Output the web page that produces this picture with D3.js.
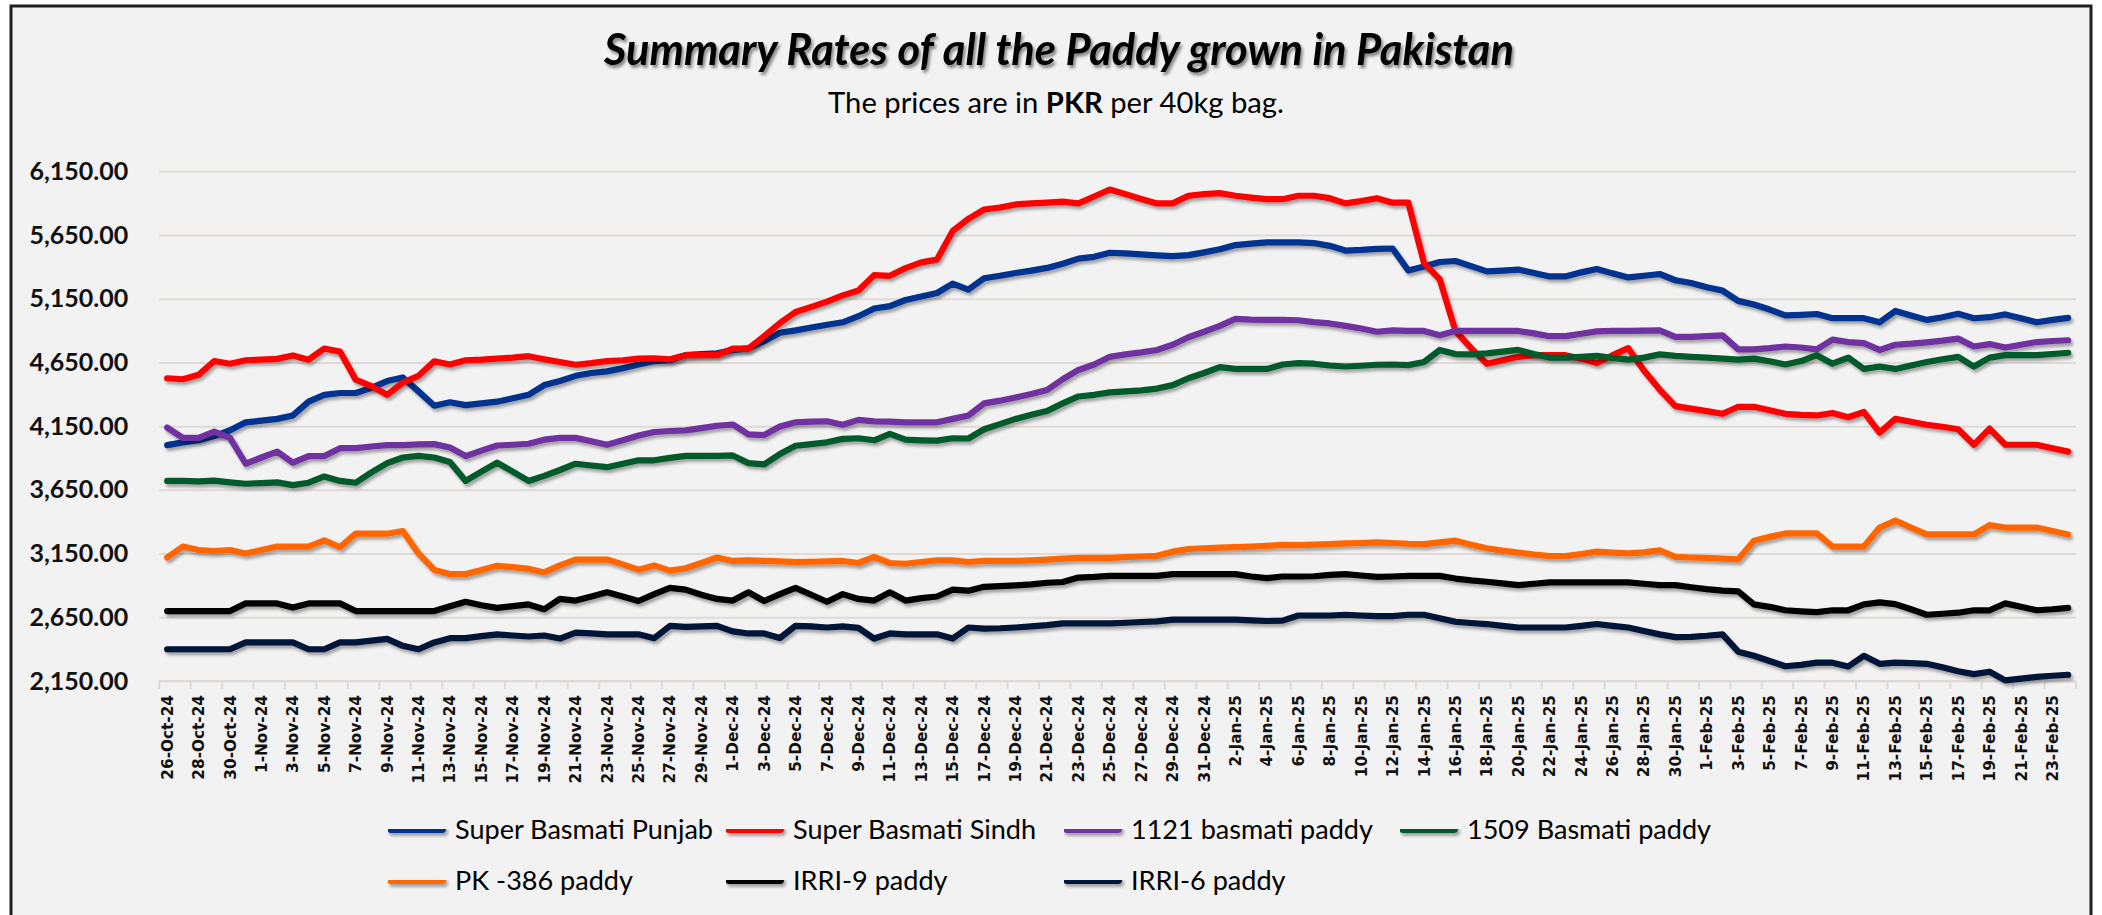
<!DOCTYPE html>
<html><head><meta charset="utf-8">
<script src="https://cdn.jsdelivr.net/npm/d3@7"></script>
<style>html,body{margin:0;padding:0;background:#fff;}svg{display:block}</style>
</head><body>
<svg id="chart" width="2102" height="915"></svg>
<script>
// ---------- DATA ----------
const categories = d3.utcDay.range(Date.UTC(2024, 9, 26), Date.UTC(2025, 1, 25)).map(d3.utcFormat("%-d-%b-%y"));
const yTickValues = [2150, 2650, 3150, 3650, 4150, 4650, 5150, 5650, 6150];
const seriesNames = ["Super Basmati Punjab", "Super Basmati Sindh", "1121 basmati paddy", "1509 Basmati paddy", "PK -386 paddy", "IRRI-9 paddy", "IRRI-6 paddy"];

const superBasmatiPunjab = [4001,4023,4039,4072,4118,4180,4193,4207,4234,4342,4396,4410,4410,4450,4504,4532,4423,4310,4337,4315,
4329,4342,4369,4396,4472,4504,4545,4567,4580,4605,4634,4661,4667,4707,4716,4721,4748,4761,4816,4883,
4902,4924,4946,4965,5013,5073,5092,5140,5168,5195,5268,5222,5311,5330,5352,5371,5392,5425,5465,5479,
5511,5506,5498,5490,5484,5492,5514,5538,5571,5582,5592,5592,5592,5587,5565,5528,5533,5541,5544,5371,
5403,5438,5446,5406,5365,5371,5379,5352,5325,5325,5357,5384,5349,5317,5330,5344,5295,5273,5240,5214,
5133,5105,5065,5019,5024,5030,4997,4997,4997,4965,5054,5019,4984,5005,5032,4997,5005,5027,4997,4965,
4984,5000];
const superBasmatiSindh = [4526,4518,4553,4661,4640,4667,4672,4678,4705,4672,4759,4735,4515,4464,4396,4491,4545,4659,4634,4667,
4672,4680,4688,4699,4675,4653,4632,4645,4661,4667,4680,4683,4675,4707,4707,4707,4759,4759,4856,4959,
5046,5086,5127,5176,5214,5335,5330,5390,5435,5457,5682,5777,5850,5866,5890,5898,5904,5912,5898,5952,
6007,5971,5933,5898,5898,5958,5971,5979,5958,5944,5931,5931,5958,5958,5939,5898,5917,5939,5904,5904,
5430,5303,4897,4762,4640,4667,4694,4707,4707,4707,4680,4645,4707,4762,4586,4437,4307,4288,4268,4247,
4302,4302,4274,4247,4239,4234,4253,4220,4261,4099,4207,4185,4161,4145,4126,4004,4131,4004,4004,4004,
3977,3950];
const basmati1121 = [4139,4058,4058,4107,4058,3855,3904,3950,3863,3915,3915,3977,3977,3990,4001,4001,4007,4009,3982,3915,
3958,3998,4004,4012,4044,4058,4058,4031,4004,4039,4077,4104,4112,4117,4134,4153,4163,4085,4080,4147,
4180,4185,4188,4161,4199,4188,4185,4180,4180,4180,4207,4234,4329,4350,4375,4402,4434,4518,4591,4634,
4694,4713,4729,4748,4789,4848,4891,4937,4992,4986,4984,4984,4981,4966,4956,4937,4916,4891,4902,4897,
4897,4864,4897,4897,4897,4897,4897,4878,4856,4856,4875,4894,4897,4897,4900,4902,4851,4851,4856,4862,
4753,4753,4762,4775,4767,4753,4829,4810,4802,4748,4789,4797,4808,4821,4837,4775,4794,4767,4789,4810,
4818,4824];
const basmati1509 = [3720,3720,3717,3722,3709,3698,3703,3709,3687,3706,3755,3720,3706,3787,3860,3904,3917,3904,3868,3720,
3793,3863,3793,3720,3760,3806,3855,3841,3828,3855,3882,3882,3901,3917,3917,3917,3920,3860,3850,3931,
3996,4009,4023,4050,4055,4039,4090,4044,4039,4036,4055,4053,4126,4166,4207,4239,4269,4329,4383,4396,
4415,4423,4431,4445,4472,4526,4567,4613,4599,4599,4599,4634,4645,4640,4626,4618,4624,4632,4634,4629,
4653,4748,4716,4713,4721,4735,4748,4716,4688,4688,4694,4702,4686,4672,4688,4713,4702,4694,4688,4680,
4672,4680,4659,4634,4661,4707,4640,4688,4599,4618,4599,4626,4653,4675,4694,4618,4688,4707,4707,4707,
4716,4726];
const pk386 = [3119,3205,3178,3170,3178,3151,3178,3205,3205,3205,3254,3200,3306,3306,3306,3327,3151,3022,2989,2989,
3022,3054,3043,3030,3002,3057,3103,3103,3103,3065,3024,3057,3016,3035,3076,3119,3092,3097,3092,3089,
3084,3086,3089,3092,3076,3124,3076,3070,3084,3097,3097,3084,3092,3092,3092,3097,3103,3111,3116,3116,
3116,3122,3127,3132,3165,3186,3192,3197,3200,3205,3211,3219,3216,3220,3224,3230,3233,3238,3233,3227,
3224,3238,3251,3219,3192,3173,3157,3143,3130,3130,3146,3165,3157,3151,3159,3176,3124,3119,3116,3111,
3105,3251,3281,3308,3308,3308,3205,3205,3205,3354,3408,3354,3300,3300,3300,3300,3373,3354,3354,3354,
3327,3300];
const irri9 = [2699,2699,2699,2699,2699,2759,2759,2759,2726,2759,2759,2759,2699,2699,2699,2699,2699,2699,2737,2772,
2745,2724,2737,2751,2713,2794,2781,2813,2846,2813,2778,2832,2881,2867,2827,2794,2781,2846,2778,2832,
2881,2827,2772,2832,2794,2781,2846,2781,2800,2813,2867,2859,2889,2894,2900,2908,2921,2927,2962,2967,
2975,2975,2975,2975,2989,2989,2989,2989,2989,2970,2957,2970,2970,2972,2983,2989,2978,2967,2970,2975,
2975,2975,2954,2940,2929,2916,2902,2913,2924,2924,2924,2924,2924,2924,2913,2902,2902,2886,2871,2859,
2854,2751,2732,2705,2697,2691,2705,2705,2751,2767,2753,2713,2670,2678,2686,2705,2705,2759,2732,2705,
2713,2724];
const irri6 = [2399,2399,2399,2399,2399,2453,2453,2453,2453,2399,2399,2453,2453,2467,2480,2426,2399,2453,2486,2486,
2502,2516,2507,2499,2507,2483,2529,2523,2516,2516,2516,2486,2583,2575,2578,2583,2540,2523,2523,2488,
2583,2578,2570,2578,2567,2483,2523,2516,2516,2516,2483,2570,2561,2564,2570,2578,2588,2602,2602,2602,
2602,2607,2613,2618,2632,2632,2632,2632,2632,2626,2621,2624,2664,2664,2664,2670,2664,2659,2659,2670,
2670,2642,2615,2605,2597,2583,2570,2570,2570,2570,2583,2597,2583,2570,2542,2516,2494,2497,2505,2516,
2380,2348,2307,2266,2277,2294,2294,2264,2348,2285,2294,2291,2285,2258,2226,2204,2223,2155,2169,2182,
2191,2199];

const seriesValues = [superBasmatiPunjab, superBasmatiSindh, basmati1121, basmati1509, pk386, irri9, irri6];
const seriesColors = ["#00308F", "#FF0000", "#7030A0", "#045A2B", "#FF6600", "#000000", "#001238"];

// ---------- LAYOUT ----------
const svg = d3.select("#chart");
const plot = {left: 159.3, right: 2076, top: 171.3, bottom: 681};

const defs = svg.append("defs");
defs.append("filter").attr("id", "lineShadow").attr("filterUnits", "userSpaceOnUse")
  .attr("x", 0).attr("y", 0).attr("width", 2102).attr("height", 915)
  .append("feDropShadow").attr("dx", 2).attr("dy", 3).attr("stdDeviation", 1.6)
  .attr("flood-color", "#000").attr("flood-opacity", 0.33);
defs.append("filter").attr("id", "titleShadow").attr("filterUnits", "userSpaceOnUse")
  .attr("x", 0).attr("y", 0).attr("width", 2102).attr("height", 915)
  .append("feDropShadow").attr("dx", 2).attr("dy", 3).attr("stdDeviation", 1.5)
  .attr("flood-color", "#000").attr("flood-opacity", 0.45);

// chart area background + border
svg.append("rect").attr("x", 11).attr("y", 6).attr("width", 2080).attr("height", 940)
  .attr("fill", "#F2F2F2").attr("stroke", "#1F1F1F").attr("stroke-width", 3);

const x = d3.scalePoint().domain(categories).range([plot.left, plot.right]).padding(0.5);
const xb = d3.scaleBand().domain(categories).range([plot.left, plot.right]).padding(0);
const y = d3.scaleLinear().domain([2150, 6150]).range([plot.bottom, plot.top]);

// gridlines + y labels
const yAxis = svg.append("g").attr("transform", `translate(${plot.left},0)`)
  .call(d3.axisLeft(y).tickValues(yTickValues).tickSize(-(plot.right - plot.left)).tickPadding(31).tickFormat(d3.format(",.2f")));
yAxis.select(".domain").remove();
yAxis.selectAll(".tick line").attr("stroke", "#DFDAD5").attr("stroke-width", 2);
yAxis.selectAll(".tick text").attr("font-family", "Lato, 'Open Sans', sans-serif").attr("font-weight", 700)
  .attr("font-size", 25).attr("fill", "#111");

// x axis line and tick marks (every 2 categories, on category boundaries)
const xAxisG = svg.append("g");
xAxisG.append("line").attr("x1", plot.left).attr("x2", plot.right).attr("y1", y(2150)).attr("y2", y(2150))
  .attr("stroke", "#DFDAD5").attr("stroke-width", 2);
const tickBounds = categories.filter((d, i) => i % 2 === 0).map(d => xb(d)).concat([plot.right]);
xAxisG.selectAll("line.tk").data(tickBounds).join("line").attr("class", "tk")
  .attr("x1", d => d).attr("x2", d => d).attr("y1", y(2150)).attr("y2", y(2150) + 8)
  .attr("stroke", "#DFDAD5").attr("stroke-width", 2);

// x labels
const xLabelCats = categories.filter((d, i) => i % 2 === 0);
xAxisG.selectAll("text.xl").data(xLabelCats).join("text").attr("class", "xl")
  .attr("transform", d => `translate(${x(d)},695) rotate(-90)`)
  .attr("text-anchor", "end").attr("dy", "0.36em")
  .attr("font-family", "'DejaVu Sans', Verdana, sans-serif").attr("font-weight", 700)
  .attr("font-size", 15.3).attr("fill", "#111").text(d => d);

// lines
const line = d3.line().x((d, i) => x(categories[i])).y(d => y(d)).curve(d3.curveLinear);
svg.append("g").selectAll("path").data(seriesValues).join("path")
  .attr("d", d => line(d)).attr("fill", "none")
  .attr("stroke", (d, i) => seriesColors[i]).attr("stroke-width", 6.2)
  .attr("stroke-linejoin", "round").attr("stroke-linecap", "round")
  .attr("filter", "url(#lineShadow)");

// title
const title = svg.append("text").attr("x", 1059).attr("y", 65).attr("text-anchor", "middle")
  .attr("font-family", "Lato, 'Open Sans', sans-serif").attr("font-weight", 700).attr("font-style", "italic")
  .attr("font-size", 36).attr("fill", "#000").attr("filter", "url(#titleShadow)")
  .text("Summary Rates of all the Paddy grown in Pakistan");
function fit(sel, target) {
  const w = sel.node().getComputedTextLength();
  const fs = parseFloat(sel.attr("font-size"));
  if (w > 0) sel.attr("font-size", (fs * target / w).toFixed(2));
}
fit(title, 910);

const sub = svg.append("text").attr("x", 1056).attr("y", 113).attr("text-anchor", "middle")
  .attr("font-family", "Lato, 'Open Sans', sans-serif").attr("font-size", 26).attr("fill", "#000");
sub.append("tspan").text("The prices are in ");
sub.append("tspan").attr("font-weight", 700).text("PKR");
sub.append("tspan").text(" per 40kg bag.");
fit(sub, 456);

// legend
const legendCols = [388, 726, 1064, 1400];
const legendRows = [829, 880];
const legendItems = seriesNames.map((name, i) => ({name, color: seriesColors[i],
  x: legendCols[i < 4 ? i : i - 4], y: legendRows[i < 4 ? 0 : 1]}));
const lg = svg.append("g").selectAll("g").data(legendItems).join("g")
  .attr("transform", d => `translate(${d.x},${d.y})`);
lg.append("line").attr("x1", 3).attr("x2", 54).attr("y1", 0).attr("y2", 0)
  .attr("stroke", d => d.color).attr("stroke-width", 8).attr("stroke-linecap", "round")
  .attr("filter", "url(#lineShadow)");
const lt = lg.append("text").attr("x", 67).attr("dy", "0.36em")
  .attr("font-family", "Lato, 'Open Sans', sans-serif").attr("font-size", 28).attr("fill", "#000")
  .text(d => d.name);
// size legend font so "Super Basmati Punjab" is ~258px wide
const w0 = lt.nodes()[0].getComputedTextLength();
if (w0 > 0) lt.attr("font-size", (28 * 258 / w0).toFixed(2));
</script>
</body></html>
